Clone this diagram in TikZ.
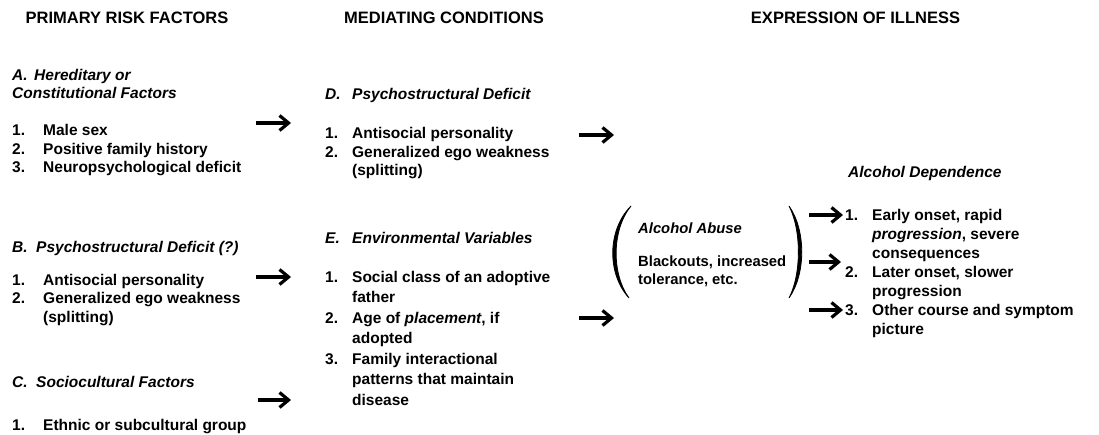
\documentclass[tikz,border=0pt]{standalone}
\usepackage{fontspec}
\setmainfont{Liberation Sans}
\usetikzlibrary{arrows.meta, positioning}

% numbered entries with hanging text
\newcommand{\itmno}[2][28pt]{\strut\makebox[#1][l]{#2}}
\newcommand{\itmgap}[1][28pt]{\strut\hspace*{#1}}

\begin{document}
\begin{tikzpicture}[
        x=1pt, y=-1pt,
        font=\fontsize{15.5}{18.5}\selectfont\bfseries,
        >={Straight Barb[length=9pt, width=15pt]},
        hdr/.style={font=\fontsize{16.5}{19}\selectfont\bfseries, inner sep=0pt},
        ttl/.style={anchor=north west, align=left, inner sep=0pt, font=\fontsize{15.5}{18.5}\selectfont\bfseries\itshape},
        lst/.style={anchor=north west, align=left, inner sep=0pt},
        arr/.style={->, line width=3.2pt},
        paren/.style={fill=black, draw=black, line width=0.8pt}
    ]
        \useasboundingbox (0,0) rectangle (1099,435);

        %=================== column headings ===================
        \node[hdr] (hdrRisk) at (127,18) {PRIMARY RISK FACTORS};
        \node[hdr] (hdrMed) at (444,18) {MEDIATING CONDITIONS};
        \node[hdr] (hdrIll) at (855.5,18) {EXPRESSION OF ILLNESS};

        %=================== primary risk factors ===================
        \node[ttl] (ttlA) at (12,67) {\itmno[22pt]{A.}Hereditary or\\Constitutional Factors};
        \node[lst, below right=23.5pt and 0pt of ttlA.south west] (lstA)
            {\itmno[31pt]{1.}Male sex\\
             \itmno[31pt]{2.}Positive family history\\
             \itmno[31pt]{3.}Neuropsychological deficit};

        \node[ttl] (ttlB) at (12,239) {\itmno[24pt]{B.}Psychostructural Deficit (?)};
        \node[lst, below right=14pt and 0pt of ttlB.south west] (lstB)
            {\itmno[31pt]{1.}Antisocial personality\\
             \itmno[31pt]{2.}Generalized ego weakness\\
             \itmgap[31pt](splitting)};

        \node[ttl] (ttlC) at (12,374) {\itmno[24pt]{C.}Sociocultural Factors};
        \node[lst, below right=24.5pt and 0pt of ttlC.south west] (lstC)
            {\itmno[31pt]{1.}Ethnic or subcultural group};

        %=================== mediating conditions ===================
        \node[ttl] (ttlD) at (325,86) {\itmno[27pt]{D.}Psychostructural Deficit};
        \node[lst, below right=20.5pt and 0pt of ttlD.south west] (lstD)
            {\itmno[27pt]{1.}Antisocial personality\\
             \itmno[27pt]{2.}Generalized ego weakness\\
             \itmgap[27pt](splitting)};

        \node[ttl] (ttlE) at (325,230) {\itmno[27pt]{E.}Environmental Variables};
        \node[lst, font=\fontsize{15.5}{20.5}\selectfont\bfseries,
              below right=19pt and 0pt of ttlE.south west] (lstE)
            {\itmno[27pt]{1.}Social class of an adoptive\\
             \itmgap[27pt]father\\
             \itmno[27pt]{2.}Age of \textit{placement}, if\\
             \itmgap[27pt]adopted\\
             \itmno[27pt]{3.}Family interactional\\
             \itmgap[27pt]patterns that maintain\\
             \itmgap[27pt]disease};

        %=================== expression of illness ===================
        \node[lst, font=\fontsize{14.8}{18.5}\selectfont\bfseries] (abuse) at (638,220)
            {\strut\textit{Alcohol Abuse}\\[14.5pt]
             Blackouts, increased\\
             tolerance, etc.};
        % brackets round the abuse block
        \fill[paren] (631,206) .. controls (607,230) and (607,274) .. (629,298)
            .. controls (611.5,274) and (611.5,230) .. cycle;
        \fill[paren] (789,206) .. controls (806,230) and (806,274) .. (789,298)
            .. controls (801.5,274) and (801.5,230) .. cycle;

        \node[ttl] (ttlF) at (848,164) {\strut Alcohol Dependence};
        \node[lst, font=\fontsize{15.5}{19}\selectfont\bfseries,
              below right=24pt and -3pt of ttlF.south west] (lstF)
            {\itmno[27pt]{1.}Early onset, rapid\\
             \itmgap[27pt]\textit{progression}, severe\\
             \itmgap[27pt]consequences\\
             \itmno[27pt]{2.}Later onset, slower\\
             \itmgap[27pt]progression\\
             \itmno[27pt]{3.}Other course and symptom\\
             \itmgap[27pt]picture};

        %=================== arrows ===================
        \coordinate (aA1) at (256,123);  \coordinate (aA2) at (291,123);
        \coordinate (aB1) at (256,277);  \coordinate (aB2) at (291,277);
        \coordinate (aC1) at (258,400);  \coordinate (aC2) at (291,400);
        \coordinate (aD1) at (579,135);  \coordinate (aD2) at (614,135);
        \coordinate (aE1) at (579,318);  \coordinate (aE2) at (614,318);
        \coordinate (aF1) at (809,215);  \coordinate (aF2) at (843,215);
        \coordinate (aG1) at (809,262);  \coordinate (aG2) at (841,262);
        \coordinate (aH1) at (809,310);  \coordinate (aH2) at (843,310);
        \draw[arr] (aA1) -- (aA2);
        \draw[arr] (aB1) -- (aB2);
        \draw[arr] (aC1) -- (aC2);
        \draw[arr] (aD1) -- (aD2);
        \draw[arr] (aE1) -- (aE2);
        \draw[arr] (aF1) -- (aF2);
        \draw[arr] (aG1) -- (aG2);
        \draw[arr] (aH1) -- (aH2);
    \end{tikzpicture}
\end{document}
